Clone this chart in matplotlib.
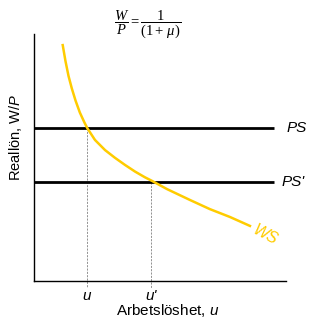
import matplotlib.pyplot as plt

plt.rcParams['font.family'] = ['Liberation Sans', 'DejaVu Sans']
plt.rcParams['mathtext.fontset'] = 'custom'
plt.rcParams['mathtext.rm'] = 'Liberation Serif'
plt.rcParams['mathtext.it'] = 'Liberation Serif:italic'
plt.rcParams['mathtext.sf'] = 'Liberation Sans:italic'

# wage-setting curve
ws_x = [1.14, 1.25, 1.37, 1.50, 1.65, 1.82, 2.00, 2.12, 2.42, 2.82,
        3.21, 3.61, 4.01, 4.40, 4.67, 5.28, 6.19, 6.98, 7.78, 8.57]
ws_y = [9.55, 8.90, 8.30, 7.80, 7.30, 6.82, 6.42, 6.18, 5.71, 5.30,
        4.99, 4.70, 4.43, 4.20, 4.06, 3.72, 3.28, 2.91, 2.59, 2.23]

# price-setting levels and the matching unemployment rates
ps_levels = [6.19, 4.0]
ps_labels = ['PS', "PS'"]
ps_label_x = [10.04, 9.84]
u_values = [2.1, 4.64]
u_labels = ['u', "u'"]
PS_END = 9.52

YELLOW = '#FFCC00'

fig = plt.figure(figsize=(3.09, 3.25), dpi=100)
ax = fig.add_axes([0.110, 0.1354, 0.8155, 0.76])
ax.set_xlim(0, 10)
ax.set_ylim(0, 10)

for lvl, lbl, lx in zip(ps_levels, ps_labels, ps_label_x):
    ax.plot([0, PS_END], [lvl, lvl], color='black', lw=2.0, solid_capstyle='butt', zorder=3)
    ax.text(lx, lvl, lbl, style='italic', fontsize=11, ha='left', va='center',
            clip_on=False)

for u, lvl, lbl in zip(u_values, ps_levels, u_labels):
    ax.plot([u, u], [lvl, -0.3], color='gray', lw=0.6, ls=(0, (2.5, 1.5)),
            clip_on=False, zorder=2)
    ax.text(u, -0.6, lbl, style='italic', fontsize=11, ha='center', va='center')

ax.plot(ws_x, ws_y, color=YELLOW, lw=1.8, zorder=4, solid_joinstyle='round')
ax.text(9.17, 1.86, 'WS', color=YELLOW, style='italic', fontsize=11.5,
        rotation=-28, ha='center', va='center')

for side in ['top', 'right']:
    ax.spines[side].set_visible(False)
for side in ['left', 'bottom']:
    ax.spines[side].set_linewidth(1.0)
ax.set_xticks([])
ax.set_yticks([])

ax.text(5.3, -1.2, 'Arbetslöshet, $\\mathsf{u}$', fontsize=11, ha='center',
        va='center')
ax.set_ylabel('Reallön, W/$\\mathsf{P}$', fontsize=10.5)
ax.yaxis.set_label_coords(-0.04, 0.583)
fig.text(148 / 309, 1 - 24 / 325, r'$\dfrac{W}{P}=\dfrac{1}{(1+\,\mu)}$',
         fontsize=10.5, ha='center', va='center')

fig.savefig('out.png', dpi=100)
